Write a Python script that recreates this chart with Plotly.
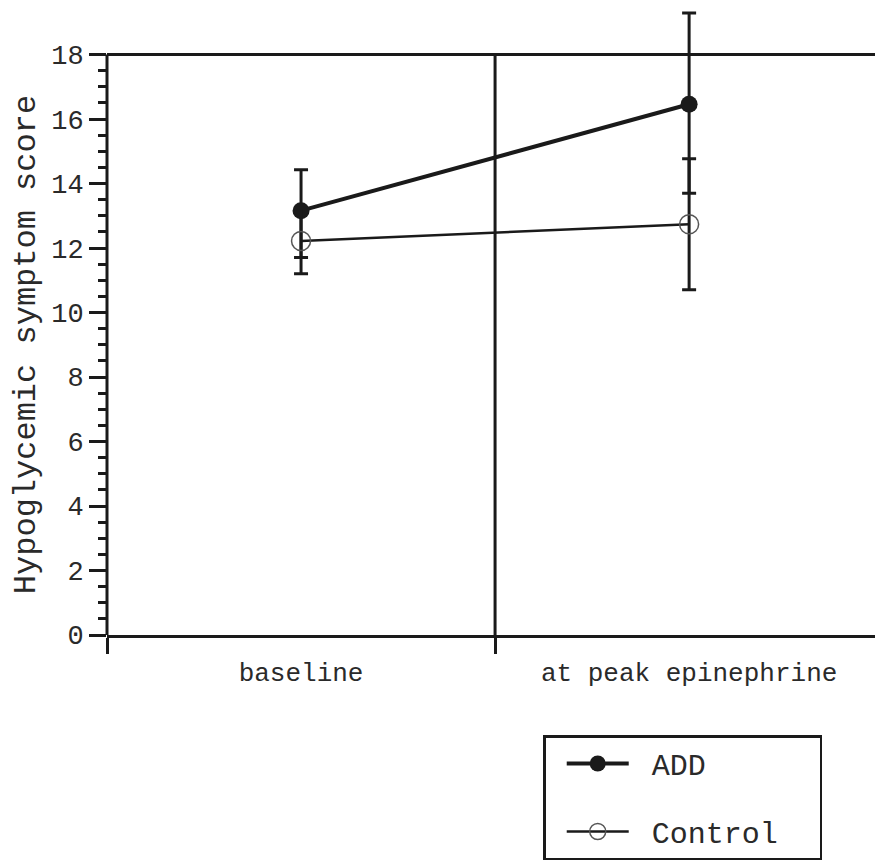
import plotly.graph_objects as go

# Measurement points and group means with SEM (upper / lower)
categories = ["baseline", "at peak epinephrine"]
add_mean = [13.16, 16.46]
add_err_up = [1.27, 2.83]
add_err_down = [1.45, 2.76]
control_mean = [12.22, 12.74]
control_err = [1.02, 2.03]

y_ticks = [0, 2, 4, 6, 8, 10, 12, 14, 16, 18]
y_title = "Hypoglycemic symptom score"

x_pos = [i + 0.5 for i in range(len(categories))]
X_MAX = 1.979          # panel is cut at the right edge of the page
Y_TOP = y_ticks[-1]    # frame top
Y_VIEW = 19.6          # headroom so the tallest error bar is not clipped

FONT = "Liberation Mono, Courier New, monospace"
INK = "#1a1a1a"
TXT = "#2a2a2a"

minor_y = [v / 2 for v in range(0, 2 * Y_TOP) if v % 4 != 0]

fig = go.Figure()

fig.add_trace(go.Scatter(
    x=x_pos, y=add_mean, name="\u00a0ADD", mode="lines+markers",
    line=dict(color=INK, width=4),
    marker=dict(symbol="circle", size=17, color=INK),
    error_y=dict(type="data", array=add_err_up, arrayminus=add_err_down,
                 color=INK, thickness=3, width=7),
    cliponaxis=False, legendgroup="a",
))
fig.add_trace(go.Scatter(
    x=x_pos, y=control_mean, name="\u00a0Control\u00a0\u00a0", mode="lines+markers",
    line=dict(color=INK, width=2.5),
    marker=dict(symbol="circle-open", size=19, color="#555", line=dict(width=1.5)),
    error_y=dict(type="data", array=control_err, color=INK, thickness=3, width=7),
    cliponaxis=False, legendgroup="b",
))

fig.update_xaxes(
    range=[0, X_MAX],
    tickvals=x_pos, ticktext=categories, ticks="",
    ticklabelstandoff=12,
    tickfont=dict(family=FONT, size=26, color=TXT),
    showline=True, linecolor=INK, linewidth=3,
    showgrid=False, zeroline=False,
    minor=dict(dtick=1, tick0=0, ticks="outside", ticklen=16, tickwidth=2.5,
               tickcolor=INK, showgrid=False),
)
fig.update_yaxes(
    range=[0, Y_VIEW], tickvals=y_ticks,
    ticks="outside", ticklen=17, tickwidth=3, tickcolor=INK,
    tickfont=dict(family=FONT, size=27, color=TXT),
    showline=False, showgrid=False, zeroline=False,
    minor=dict(tickvals=minor_y, ticks="outside", ticklen=8, tickwidth=2.5,
               tickcolor=INK, showgrid=False),
)

# axis title centred on the 0-18 frame rather than the whole panel
fig.add_annotation(
    text=y_title, textangle=-90, showarrow=False,
    xref="paper", yref="y", x=-0.105, y=Y_TOP / 2,
    xanchor="center", yanchor="middle",
    font=dict(family=FONT, size=32, color=TXT),
)

# frame: left axis line, top border and the divider between the two periods
frame = dict(color=INK, width=3)
fig.add_shape(type="line", xref="x domain", yref="y", x0=0, x1=0, y0=0, y1=Y_TOP, line=frame)
fig.add_shape(type="line", xref="x domain", yref="y", x0=0, x1=1, y0=Y_TOP, y1=Y_TOP, line=frame)
fig.add_shape(type="line", xref="x", yref="y", x0=1, x1=1, y0=0, y1=Y_TOP, line=frame)

fig.update_layout(
    width=875, height=860,
    margin=dict(l=107, r=0, t=3, b=224),
    plot_bgcolor="white", paper_bgcolor="white",
    showlegend=True,
    legend=dict(
        x=0.568, xanchor="left", y=-0.158, yanchor="top",
        bordercolor=INK, borderwidth=2.5, bgcolor="white",
        font=dict(family=FONT, size=30, color=TXT),
        tracegroupgap=26, itemwidth=62, indentation=16,
    ),
)

fig.write_html("out.html")
